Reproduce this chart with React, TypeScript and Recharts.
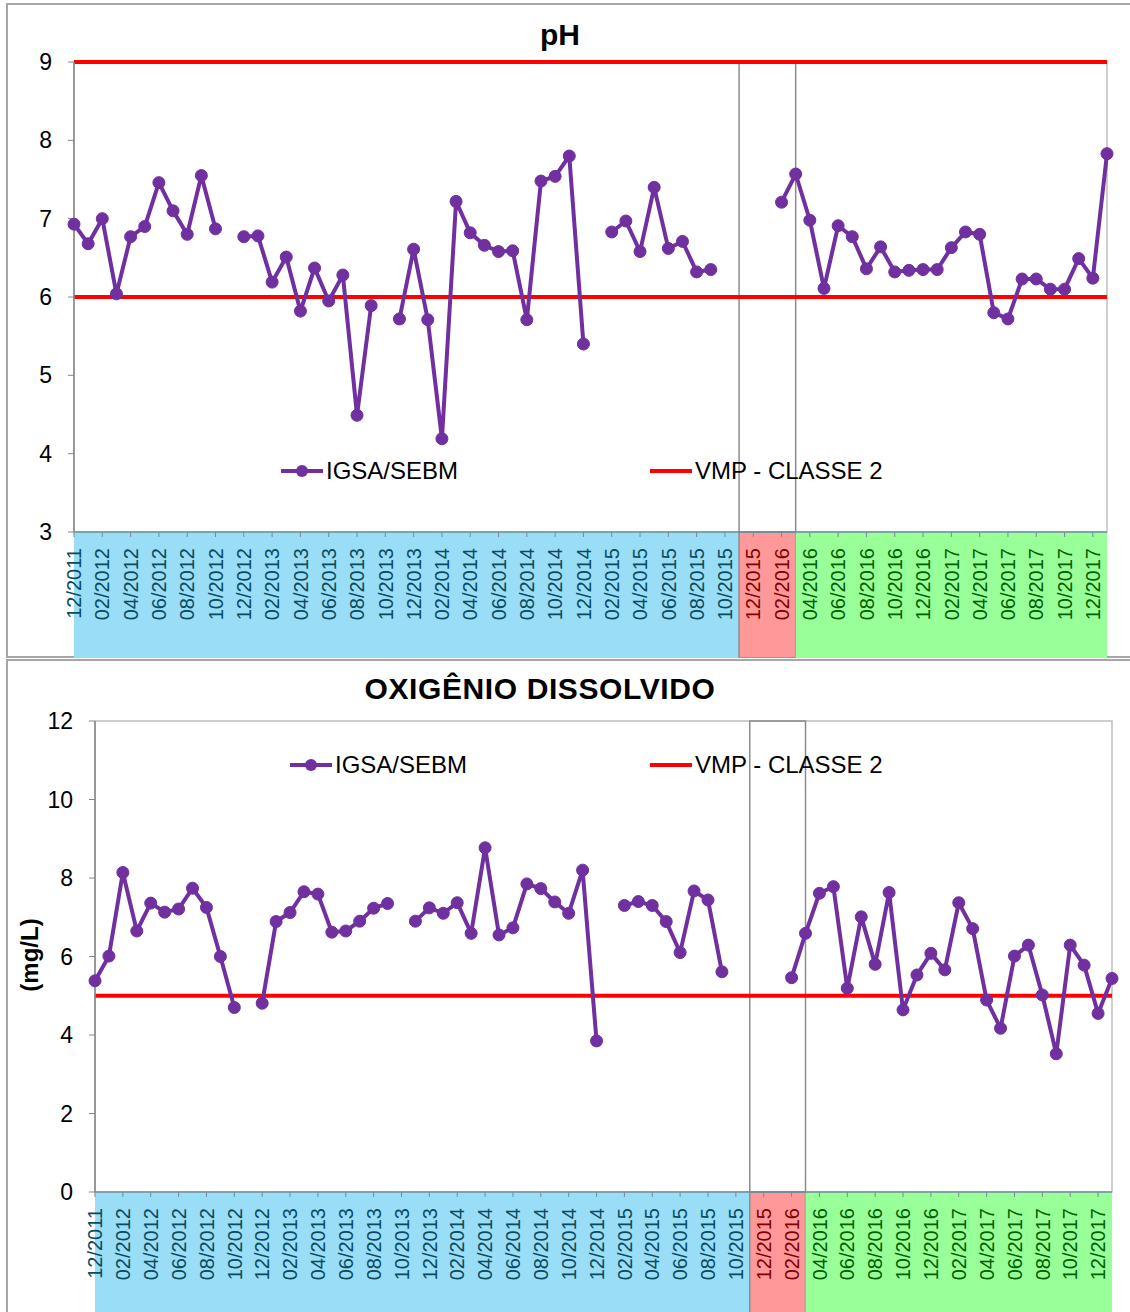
import { Line, LineChart, ReferenceArea, ReferenceLine, XAxis, YAxis } from "recharts";

// monthly campaigns, 12/2011 .. 01/2018
const MONTHS = [
  "12/2011",
  "01/2012", "02/2012", "03/2012", "04/2012", "05/2012", "06/2012", "07/2012", "08/2012", "09/2012", "10/2012", "11/2012", "12/2012",
  "01/2013", "02/2013", "03/2013", "04/2013", "05/2013", "06/2013", "07/2013", "08/2013", "09/2013", "10/2013", "11/2013", "12/2013",
  "01/2014", "02/2014", "03/2014", "04/2014", "05/2014", "06/2014", "07/2014", "08/2014", "09/2014", "10/2014", "11/2014", "12/2014",
  "01/2015", "02/2015", "03/2015", "04/2015", "05/2015", "06/2015", "07/2015", "08/2015", "09/2015", "10/2015", "11/2015", "12/2015",
  "01/2016", "02/2016", "03/2016", "04/2016", "05/2016", "06/2016", "07/2016", "08/2016", "09/2016", "10/2016", "11/2016", "12/2016",
  "01/2017", "02/2017", "03/2017", "04/2017", "05/2017", "06/2017", "07/2017", "08/2017", "09/2017", "10/2017", "11/2017", "12/2017",
  "01/2018",
];

const PH = [
  6.93,
  6.68, 7.0, 6.04, 6.77, 6.9, 7.46, 7.1, 6.8, 7.55, 6.87, null, 6.77,
  6.78, 6.19, 6.51, 5.82, 6.37, 5.95, 6.28, 4.49, 5.89, null, 5.72, 6.61,
  5.71, 4.19, 7.22, 6.82, 6.66, 6.58, 6.59, 5.71, 7.48, 7.54, 7.8, 5.4,
  null, 6.83, 6.97, 6.58, 7.4, 6.62, 6.71, 6.32, 6.35, null, null, null,
  null, 7.21, 7.57, 6.98, 6.11, 6.91, 6.77, 6.36, 6.64, 6.32, 6.34, 6.35,
  6.35, 6.63, 6.83, 6.8, 5.8, 5.72, 6.23, 6.23, 6.1, 6.1, 6.49, 6.24,
  7.83,
];

const OD = [
  5.38,
  6.01, 8.14, 6.65, 7.36, 7.13, 7.21, 7.74, 7.25, 6.0, 4.7, null, 4.81,
  6.89, 7.12, 7.65, 7.59, 6.62, 6.65, 6.9, 7.23, 7.35, null, 6.9, 7.24,
  7.1, 7.37, 6.59, 8.77, 6.55, 6.73, 7.85, 7.73, 7.39, 7.1, 8.2, 3.85,
  null, 7.3, 7.4, 7.3, 6.89, 6.1, 7.67, 7.44, 5.61, null, null, null,
  null, 5.46, 6.59, 7.61, 7.78, 5.19, 7.01, 5.8, 7.63, 4.64, 5.53, 6.08,
  5.66, 7.37, 6.71, 4.89, 4.17, 6.01, 6.29, 5.02, 3.52, 6.29, 5.78, 4.55,
  5.44,
];

const PH_TICKS = [3, 4, 5, 6, 7, 8, 9];
const OD_TICKS = [0, 2, 4, 6, 8, 10, 12];
const PH_LIMITS = [6, 9];
const OD_LIMITS = [5];

const PERIODS = [
  { from: "12/2011", to: "11/2015", fill: "#99DDF7", text: "#0B4B5E" },
  { from: "11/2015", to: "03/2016", fill: "#FF9999", text: "#7F0000" },
  { from: "03/2016", to: "01/2018", fill: "#99FF99", text: "#006100" },
];
const HIGHLIGHT = { from: "11/2015", to: "03/2016" };

const LEGEND = [
  { name: "IGSA/SEBM", color: "#7030A0", dot: true },
  { name: "VMP - CLASSE 2", color: "#FF0000", dot: false },
];

const PURPLE = "#7030A0";
const RED = "#FF0000";
const AXIS = "#868686";
const FONT = "'Liberation Sans', Arial, sans-serif";
const X_AXIS_H = 124;

function periodOf(label: string) {
  const i = MONTHS.indexOf(label);
  return (
    PERIODS.find((p, k) => i >= MONTHS.indexOf(p.from) && (i < MONTHS.indexOf(p.to) || k === PERIODS.length - 1)) ??
    PERIODS[0]
  );
}

function MonthTick(props: any) {
  const { x, y, payload } = props;
  return (
    <text
      x={x}
      y={y}
      transform={`rotate(-90, ${x}, ${y})`}
      textAnchor="end"
      dy="0.36em"
      fontSize={20}
      fontFamily={FONT}
      fill={periodOf(payload.value).text}
    >
      {payload.value}
    </text>
  );
}

function LegendRow({ left, top, width }: { left: number; top: number; width: number }) {
  return (
    <div style={{ position: "absolute", left, top, display: "flex", alignItems: "center", fontSize: 24, lineHeight: "28px" }}>
      {LEGEND.map((l, i) => (
        <div key={l.name} style={{ display: "flex", alignItems: "center", width: i === 0 ? width : undefined }}>
          <svg width={42} height={14}>
            <line x1={0} x2={42} y1={7} y2={7} stroke={l.color} strokeWidth={4} />
            {l.dot && <circle cx={21} cy={7} r={6} fill={l.color} />}
          </svg>
          <span style={{ marginLeft: 3, whiteSpace: "nowrap" }}>{l.name}</span>
        </div>
      ))}
    </div>
  );
}

function SeriesChart({
  values,
  ticks,
  limits,
  width,
  height,
  margin,
  yWidth,
}: {
  values: (number | null)[];
  ticks: number[];
  limits: number[];
  width: number;
  height: number;
  margin: { top: number; right: number; bottom: number; left: number };
  yWidth: number;
}) {
  const data = MONTHS.map((month, i) => ({ month, value: values[i] }));
  const lo = ticks[0];
  const hi = ticks[ticks.length - 1];
  const plotH = height - margin.top - margin.bottom - X_AXIS_H;
  const below = lo - ((X_AXIS_H + 2) / plotH) * (hi - lo);

  return (
    <LineChart width={width} height={height} data={data} margin={margin}>
      <ReferenceArea
        x1={MONTHS[0]}
        x2={MONTHS[MONTHS.length - 1]}
        y1={lo}
        y2={hi}
        fill="none"
        stroke="#BFBFBF"
        strokeWidth={1.5}
      />
      {PERIODS.map((p) => (
        <ReferenceArea
          key={p.from}
          x1={p.from}
          x2={p.to}
          y1={below}
          y2={lo}
          fill={p.fill}
          fillOpacity={1}
          stroke={p.from === HIGHLIGHT.from ? "#8C8C8C" : "none"}
          strokeWidth={1.5}
          ifOverflow="visible"
        />
      ))}
      <ReferenceArea
        x1={HIGHLIGHT.from}
        x2={HIGHLIGHT.to}
        y1={lo}
        y2={hi}
        fill="none"
        stroke="#8C8C8C"
        strokeWidth={1.5}
      />
      <XAxis
        dataKey="month"
        interval={1}
        height={X_AXIS_H}
        tickSize={5}
        tickMargin={11}
        tick={<MonthTick />}
        axisLine={{ stroke: "#6f8f9a", strokeWidth: 1.5 }}
        tickLine={{ stroke: "#6f8f9a" }}
      />
      <YAxis
        type="number"
        domain={[lo, hi]}
        ticks={ticks}
        interval={0}
        width={yWidth}
        tickSize={6}
        tickMargin={16}
        tick={{ fill: "#000", fontSize: 23, fontFamily: FONT }}
        axisLine={{ stroke: AXIS, strokeWidth: 1.5 }}
        tickLine={{ stroke: AXIS }}
      />
      {limits.map((v) => (
        <ReferenceLine key={v} y={v} stroke={RED} strokeWidth={4} />
      ))}
      <Line
        type="linear"
        dataKey="value"
        stroke={PURPLE}
        strokeWidth={4}
        dot={{ r: 6, fill: PURPLE, stroke: PURPLE, strokeWidth: 1 }}
        activeDot={false}
        isAnimationActive={false}
      />
    </LineChart>
  );
}

export default function App() {
  const box = { position: "absolute" as const, left: 6, width: 1130, border: "2px solid #A6A6A6", boxSizing: "border-box" as const };
  const title = { position: "absolute" as const, left: 0, fontSize: 30, fontWeight: 700, lineHeight: "30px", textAlign: "center" as const };

  return (
    <div
      style={{
        position: "absolute",
        left: 0,
        top: 0,
        width: 1130,
        height: 1312,
        overflow: "hidden",
        background: "#fff",
        fontFamily: FONT,
        color: "#000",
      }}
    >
      <div style={{ ...box, top: 3, height: 655 }} />
      <div style={{ ...box, top: 659, height: 700 }} />

      <div style={{ position: "absolute", left: 0, top: 0 }}>
        <SeriesChart
          values={PH}
          ticks={PH_TICKS}
          limits={PH_LIMITS}
          width={1130}
          height={658}
          margin={{ top: 62, right: 23, bottom: 2, left: 6 }}
          yWidth={68}
        />
      </div>
      <div style={{ position: "absolute", left: 0, top: 659 }}>
        <SeriesChart
          values={OD}
          ticks={OD_TICKS}
          limits={OD_LIMITS}
          width={1130}
          height={659}
          margin={{ top: 62, right: 18, bottom: 2, left: 6 }}
          yWidth={89}
        />
      </div>

      <div style={{ ...title, top: 20, width: 1120 }}>pH</div>
      <div style={{ ...title, top: 674, width: 1080, letterSpacing: 0.6 }}>OXIGÊNIO DISSOLVIDO</div>

      <LegendRow left={281} top={457} width={369} />
      <LegendRow left={290} top={751} width={360} />

      <div
        style={{
          position: "absolute",
          left: 30,
          top: 955,
          transform: "translate(-50%, -50%) rotate(-90deg)",
          fontSize: 24,
          fontWeight: 700,
          whiteSpace: "nowrap",
        }}
      >
        (mg/L)
      </div>
    </div>
  );
}
